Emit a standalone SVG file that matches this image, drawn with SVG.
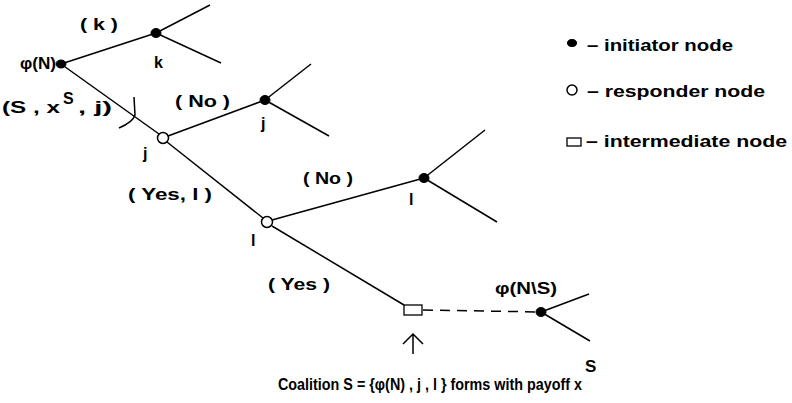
<svg xmlns="http://www.w3.org/2000/svg" width="792" height="403" viewBox="0 0 792 403">
<style>
  .edge { stroke: #000; stroke-width: 1.5; fill: none; }
  .dash { stroke: #000; stroke-width: 1.5; fill: none; stroke-dasharray: 10 7; }
  .init { fill: #000; stroke: #000; stroke-width: 1; }
  .resp { fill: #fff; stroke: #000; stroke-width: 1.5; }
  .inter { fill: #fff; stroke: #000; stroke-width: 1.3; }
  text { font-family: "Liberation Sans", Arial, sans-serif; font-weight: bold; font-size: 16px; fill: #000; }
  .leg { font-size: 16px; }
  .cap { font-size: 17px; }
</style>
<rect width="792" height="403" fill="#fff"/>
<g id="connectors">
  <line class="edge" x1="61" y1="64" x2="156" y2="33"/>
  <line class="edge" x1="156" y1="33" x2="210" y2="5"/>
  <line class="edge" x1="156" y1="33" x2="221" y2="63"/>
  <line class="edge" x1="61" y1="64" x2="159" y2="134"/>
  <line class="edge" x1="168" y1="136" x2="265" y2="100"/>
  <line class="edge" x1="265" y1="100" x2="311" y2="64"/>
  <line class="edge" x1="265" y1="100" x2="329" y2="136"/>
  <line class="edge" x1="167" y1="142" x2="263" y2="218"/>
  <line class="edge" x1="272" y1="220" x2="424" y2="178"/>
  <line class="edge" x1="424" y1="178" x2="485" y2="130"/>
  <line class="edge" x1="424" y1="178" x2="497" y2="222"/>
  <line class="edge" x1="272" y1="226" x2="404" y2="305"/>
  <line class="dash" x1="423" y1="310" x2="541" y2="312"/>
  <line class="edge" x1="541" y1="312" x2="589" y2="294"/>
  <line class="edge" x1="541" y1="312" x2="590" y2="341"/>
  <path class="edge" d="M134,97 L135,115 Q133,122 119,128"/>
  <path class="edge" d="M413,354 L413,334 M403,344 L413,334 L423,344"/>
</g>
<g id="node-phiN">
  <ellipse class="init" cx="61" cy="64" rx="5" ry="4"/>
  <text x="20" y="69" textLength="36" lengthAdjust="spacingAndGlyphs">φ(N)</text>
</g>
<g id="node-k">
  <ellipse class="init" cx="156" cy="33" rx="5" ry="4.5"/>
  <text x="154" y="68">k</text>
</g>
<g id="node-j-resp">
  <circle class="resp" cx="163" cy="138" r="5.5"/>
  <text x="143" y="159">j</text>
</g>
<g id="node-j-init">
  <ellipse class="init" cx="265" cy="100" rx="5" ry="4.5"/>
  <text x="261" y="129">j</text>
</g>
<g id="node-l-resp">
  <circle class="resp" cx="267" cy="222" r="5.5"/>
  <text x="251" y="246">l</text>
</g>
<g id="node-l-init">
  <ellipse class="init" cx="424" cy="178" rx="5" ry="4.5"/>
  <text x="409" y="205">l</text>
</g>
<g id="node-intermediate">
  <rect class="inter" x="404" y="305" width="18" height="10"/>
</g>
<g id="node-phiNS">
  <ellipse class="init" cx="541" cy="312" rx="5" ry="4.5"/>
  <text x="495" y="294" textLength="62" lengthAdjust="spacingAndGlyphs">φ(N\S)</text>
</g>
<g id="labels">
  <text x="80" y="30" textLength="38" lengthAdjust="spacingAndGlyphs">( k )</text>
  <text x="2" y="113" textLength="58" lengthAdjust="spacingAndGlyphs">(S , x</text>
  <text x="63" y="104">S</text>
  <text x="78" y="113" textLength="34" lengthAdjust="spacingAndGlyphs">, j)</text>
  <text x="175" y="107" textLength="55" lengthAdjust="spacingAndGlyphs">( No )</text>
  <text x="128" y="200" textLength="84" lengthAdjust="spacingAndGlyphs">( Yes, l )</text>
  <text x="303" y="184" textLength="50" lengthAdjust="spacingAndGlyphs">( No )</text>
  <text x="268" y="290" textLength="62" lengthAdjust="spacingAndGlyphs">( Yes )</text>
  <text class="cap" x="278" y="390" textLength="304" lengthAdjust="spacingAndGlyphs">Coalition S = {φ(N) , j , l } forms with payoff x</text>
  <text class="cap" x="585" y="372" font-size="15">S</text>
</g>
<g id="legend">
  <ellipse class="init" cx="572" cy="43" rx="4.5" ry="3.5"/>
  <text class="leg" x="587" y="51" textLength="146" lengthAdjust="spacingAndGlyphs">– initiator node</text>
  <circle class="resp" cx="572" cy="90" r="5"/>
  <text class="leg" x="587" y="97" textLength="178" lengthAdjust="spacingAndGlyphs">– responder node</text>
  <rect class="inter" x="567" y="138" width="14" height="8"/>
  <text class="leg" x="586" y="147" textLength="201" lengthAdjust="spacingAndGlyphs">– intermediate node</text>
</g>
</svg>
